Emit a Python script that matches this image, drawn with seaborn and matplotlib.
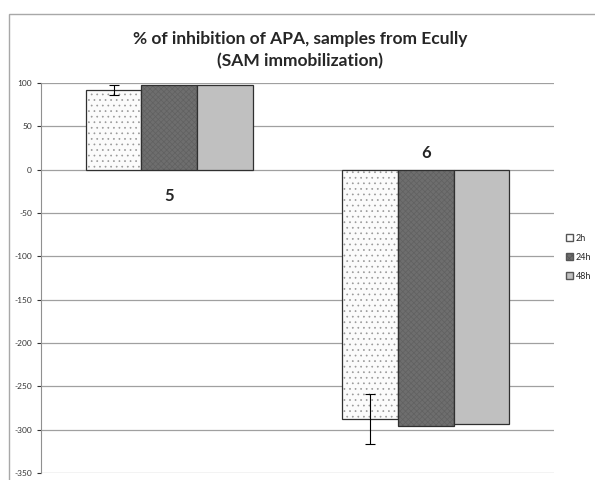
import pandas as pd
import matplotlib.pyplot as plt
import matplotlib.patches as mpatches
import seaborn as sns

# data
samples = ['5', '6']
times = ['2h', '24h', '48h']
val_2h = [92, -288]
val_24h = [98, -296]
val_48h = [98, -294]
err_2h = [5.5, 29]

df = pd.DataFrame({
    'sample': samples * 3,
    'time': [t for t in times for _ in samples],
    'value': val_2h + val_24h + val_48h,
})

sns.set_style('white')
plt.rcParams['font.family'] = ['Lato', 'DejaVu Sans']
plt.rcParams['axes.unicode_minus'] = False
plt.rcParams['hatch.linewidth'] = 0.5

fig = plt.figure(figsize=(5.95, 4.8), dpi=100)
ax = fig.add_axes([0.069, 0.0146, 0.862, 0.8125])

colors = ['#fbfbfb', '#6e6e6e', '#c0c0c0']
hatches = ['...', 'xxxxxx', '']
hatch_colors = [(0.6, 0.6, 0.6, 1), (0.38, 0.38, 0.38, 1), (0, 0, 0, 1)]
sns.barplot(data=df, x='sample', y='value', hue='time', order=samples, hue_order=times,
            palette=colors, width=0.65, gap=0, edgecolor='#303030', linewidth=0.9,
            errorbar=None, legend=False, ax=ax, zorder=3)

for i, cont in enumerate(ax.containers):
    for bar in cont:
        bar.set_hatch(hatches[i])
        bar._hatch_color = hatch_colors[i]

# error bars on the 2h series
xs = [b.get_x() + b.get_width() / 2 for b in ax.containers[0]]
ax.errorbar(xs, val_2h, yerr=err_2h, fmt='none', ecolor='black', elinewidth=0.8,
            capsize=3.5, capthick=0.8, zorder=4)

ax.set_xlim(-0.5, 1.5)
ax.set_ylim(-350, 100)
ax.set_yticks(range(-350, 101, 50))
ax.yaxis.grid(True, color='#a0a0a0', linewidth=0.9)
ax.set_axisbelow(True)
ax.tick_params(axis='y', labelsize=6, colors='#333333', length=3, direction='out', left=True)
ax.tick_params(axis='x', bottom=False, labelbottom=False)
ax.set_xlabel('')
ax.set_ylabel('')
for s in ['top', 'right', 'bottom']:
    ax.spines[s].set_visible(False)
ax.spines['left'].set_color('#909090')

# category labels as Excel drew them
ax.text(0, -30, '5', ha='center', va='center', fontsize=12, fontweight='bold')
ax.text(1, 19, '6', ha='center', va='center', fontsize=12, fontweight='bold')

fig.text(0.505, 0.896, '% of inhibition of APA, samples from Ecully\n(SAM immobilization)',
         ha='center', va='center', fontsize=12.5, fontweight='bold', linespacing=1.45)

handles = [mpatches.Patch(facecolor=c, edgecolor='#555555', hatch=h, label=t)
           for c, h, t in zip(colors, ['', 'xxxxxx', ''], times)]
fig.legend(handles=handles, loc='upper left', bbox_to_anchor=(0.945, 0.52), frameon=False,
           fontsize=6.5, handlelength=0.8, handleheight=0.8, handletextpad=0.3,
           labelspacing=1.1, borderaxespad=0)

# outer chart frame
fig.patches.append(mpatches.Rectangle((0.015, -0.01), 1.0, 0.981, transform=fig.transFigure,
                                      fill=False, edgecolor='#a8a8a8', linewidth=1.0))

fig.savefig('out.png', dpi=100)
